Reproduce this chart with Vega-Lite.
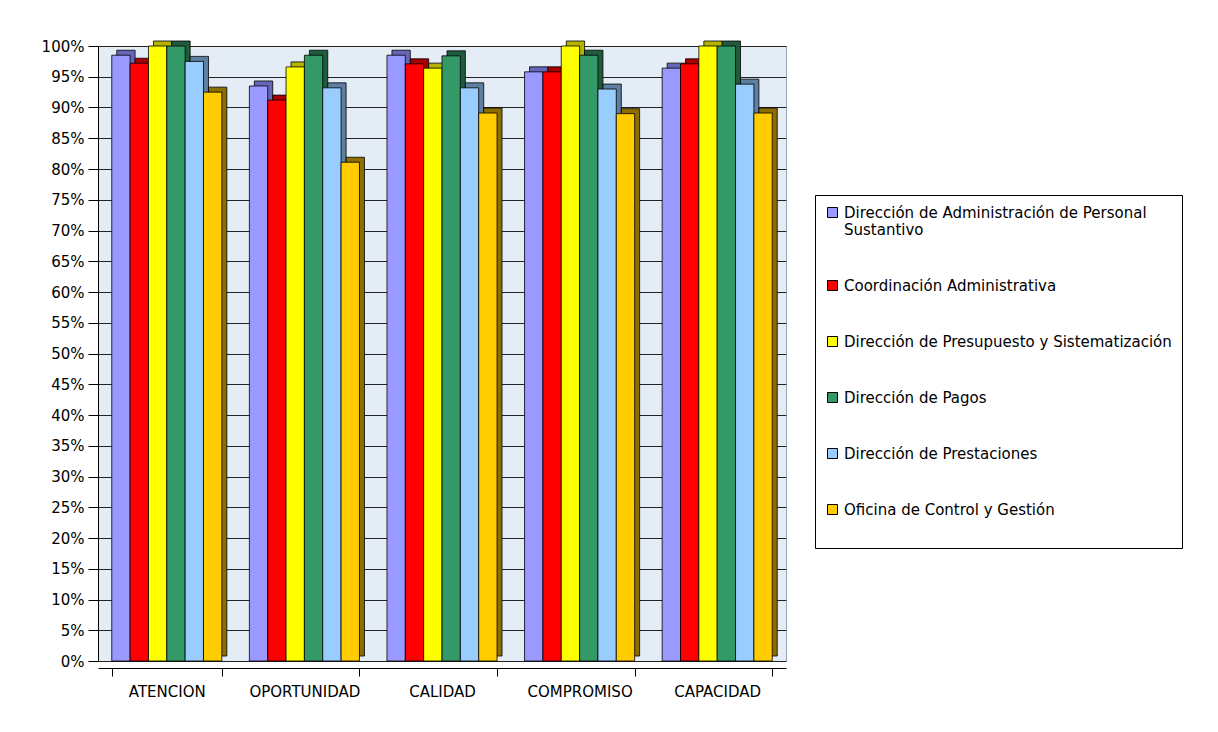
{
  "$schema": "https://vega.github.io/schema/vega-lite/v6.json",
  "width": 688,
  "height": 615,
  "autosize": {"type": "none"},
  "padding": {"left": 98, "top": 46, "right": 432, "bottom": 71},
  "background": "white",
  "config": {
    "font": "DejaVu Sans",
    "view": {"fill": "#E4ECF6", "stroke": "#9AA6B2", "strokeWidth": 1}
  },
  "data": {
    "values": [
      {"dim": "ATENCION", "unit": "Dirección de Administración de Personal Sustantivo", "v": 0.985},
      {"dim": "ATENCION", "unit": "Coordinación Administrativa", "v": 0.972},
      {"dim": "ATENCION", "unit": "Dirección de Presupuesto y Sistematización", "v": 1.0},
      {"dim": "ATENCION", "unit": "Dirección de Pagos", "v": 1.0},
      {"dim": "ATENCION", "unit": "Dirección de Prestaciones", "v": 0.975},
      {"dim": "ATENCION", "unit": "Oficina de Control y Gestión", "v": 0.925},
      {"dim": "OPORTUNIDAD", "unit": "Dirección de Administración de Personal Sustantivo", "v": 0.935},
      {"dim": "OPORTUNIDAD", "unit": "Coordinación Administrativa", "v": 0.912},
      {"dim": "OPORTUNIDAD", "unit": "Dirección de Presupuesto y Sistematización", "v": 0.966},
      {"dim": "OPORTUNIDAD", "unit": "Dirección de Pagos", "v": 0.985},
      {"dim": "OPORTUNIDAD", "unit": "Dirección de Prestaciones", "v": 0.932},
      {"dim": "OPORTUNIDAD", "unit": "Oficina de Control y Gestión", "v": 0.811},
      {"dim": "CALIDAD", "unit": "Dirección de Administración de Personal Sustantivo", "v": 0.985},
      {"dim": "CALIDAD", "unit": "Coordinación Administrativa", "v": 0.971},
      {"dim": "CALIDAD", "unit": "Dirección de Presupuesto y Sistematización", "v": 0.964},
      {"dim": "CALIDAD", "unit": "Dirección de Pagos", "v": 0.984},
      {"dim": "CALIDAD", "unit": "Dirección de Prestaciones", "v": 0.932},
      {"dim": "CALIDAD", "unit": "Oficina de Control y Gestión", "v": 0.891},
      {"dim": "COMPROMISO", "unit": "Dirección de Administración de Personal Sustantivo", "v": 0.958},
      {"dim": "COMPROMISO", "unit": "Coordinación Administrativa", "v": 0.958},
      {"dim": "COMPROMISO", "unit": "Dirección de Presupuesto y Sistematización", "v": 1.0},
      {"dim": "COMPROMISO", "unit": "Dirección de Pagos", "v": 0.985},
      {"dim": "COMPROMISO", "unit": "Dirección de Prestaciones", "v": 0.93},
      {"dim": "COMPROMISO", "unit": "Oficina de Control y Gestión", "v": 0.89},
      {"dim": "CAPACIDAD", "unit": "Dirección de Administración de Personal Sustantivo", "v": 0.964},
      {"dim": "CAPACIDAD", "unit": "Coordinación Administrativa", "v": 0.971},
      {"dim": "CAPACIDAD", "unit": "Dirección de Presupuesto y Sistematización", "v": 1.0},
      {"dim": "CAPACIDAD", "unit": "Dirección de Pagos", "v": 1.0},
      {"dim": "CAPACIDAD", "unit": "Dirección de Prestaciones", "v": 0.938},
      {"dim": "CAPACIDAD", "unit": "Oficina de Control y Gestión", "v": 0.891}
    ]
  },
  "encoding": {
    "x": {
      "field": "dim", "type": "nominal", "sort": null,
      "scale": {"paddingInner": 0.2, "paddingOuter": 0.1},
      "axis": {
        "title": null, "labelAngle": 0, "tickBand": "extent", "tickOffset": 13.76, "offset": 7,
        "labelFontSize": 15, "labelColor": "#000", "labelPadding": 8,
        "tickColor": "#000", "domainColor": "#000", "tickSize": 8
      }
    },
    "y": {
      "field": "v", "type": "quantitative",
      "scale": {"domain": [0, 1]},
      "axis": {
        "title": null, "format": ".0%",
        "values": [0, 0.05, 0.1, 0.15, 0.2, 0.25, 0.3, 0.35, 0.4, 0.45, 0.5, 0.55, 0.6, 0.65, 0.7, 0.75, 0.8, 0.85, 0.9, 0.95, 1],
        "labelFontSize": 15, "labelColor": "#000", "labelPadding": 4,
        "tickColor": "#000", "domainColor": "#000", "tickSize": 10,
        "grid": true, "gridColor": "#222", "gridWidth": 1
      }
    }
  },
  "layer": [
    {
      "mark": {"type": "bar", "yOffset": -5, "stroke": "#000", "strokeWidth": 0.8},
      "encoding": {
        "xOffset": {
          "field": "unit", "type": "nominal",
          "sort": ["Dirección de Administración de Personal Sustantivo", "Coordinación Administrativa", "Dirección de Presupuesto y Sistematización", "Dirección de Pagos", "Dirección de Prestaciones", "Oficina de Control y Gestión"],
          "scale": {"paddingInner": 0, "paddingOuter": 0, "range": [5, 115.08]}
        },
        "color": {
          "field": "unit", "type": "nominal", "legend": null,
          "scale": {
            "domain": ["Dirección de Administración de Personal Sustantivo", "Coordinación Administrativa", "Dirección de Presupuesto y Sistematización", "Dirección de Pagos", "Dirección de Prestaciones", "Oficina de Control y Gestión"],
            "range": ["#6666B8", "#A80000", "#B3B300", "#1F5C3D", "#5E7F9F", "#8C6D00"]
          }
        }
      }
    },
    {
      "mark": {"type": "bar", "stroke": "#000", "strokeWidth": 0.8, "opacity": 1},
      "encoding": {
        "xOffset": {
          "field": "unit", "type": "nominal",
          "sort": ["Dirección de Administración de Personal Sustantivo", "Coordinación Administrativa", "Dirección de Presupuesto y Sistematización", "Dirección de Pagos", "Dirección de Prestaciones", "Oficina de Control y Gestión"],
          "scale": {"paddingInner": 0, "paddingOuter": 0, "range": [0, 110.08]}
        },
        "fill": {
          "field": "unit", "type": "nominal",
          "scale": {
            "domain": ["Dirección de Administración de Personal Sustantivo", "Coordinación Administrativa", "Dirección de Presupuesto y Sistematización", "Dirección de Pagos", "Dirección de Prestaciones", "Oficina de Control y Gestión"],
            "range": ["#9999FF", "#FF0000", "#FFFF00", "#339966", "#99CCFF", "#FFCC00"]
          },
          "legend": {
            "title": "\u00a0", "titleOrient": "bottom", "titleFontSize": 14, "titlePadding": 6,
            "orient": "none", "legendX": 717, "legendY": 149,
            "direction": "vertical",
            "fillColor": "#FFFFFF", "strokeColor": "#000", "padding": 10,
            "symbolType": "square", "symbolSize": 100, "symbolStrokeColor": "#000", "symbolStrokeWidth": 1,
            "labelFontSize": 15, "labelColor": "#000", "labelLimit": 400, "rowPadding": 40,
            "labelExpr": "datum.label == 'Dirección de Administración de Personal Sustantivo' ? ['Dirección de Administración de Personal', 'Sustantivo'] : datum.label"
          }
        }
      }
    }
  ],
  "resolve": {"scale": {"color": "independent", "xOffset": "independent"}}
}
